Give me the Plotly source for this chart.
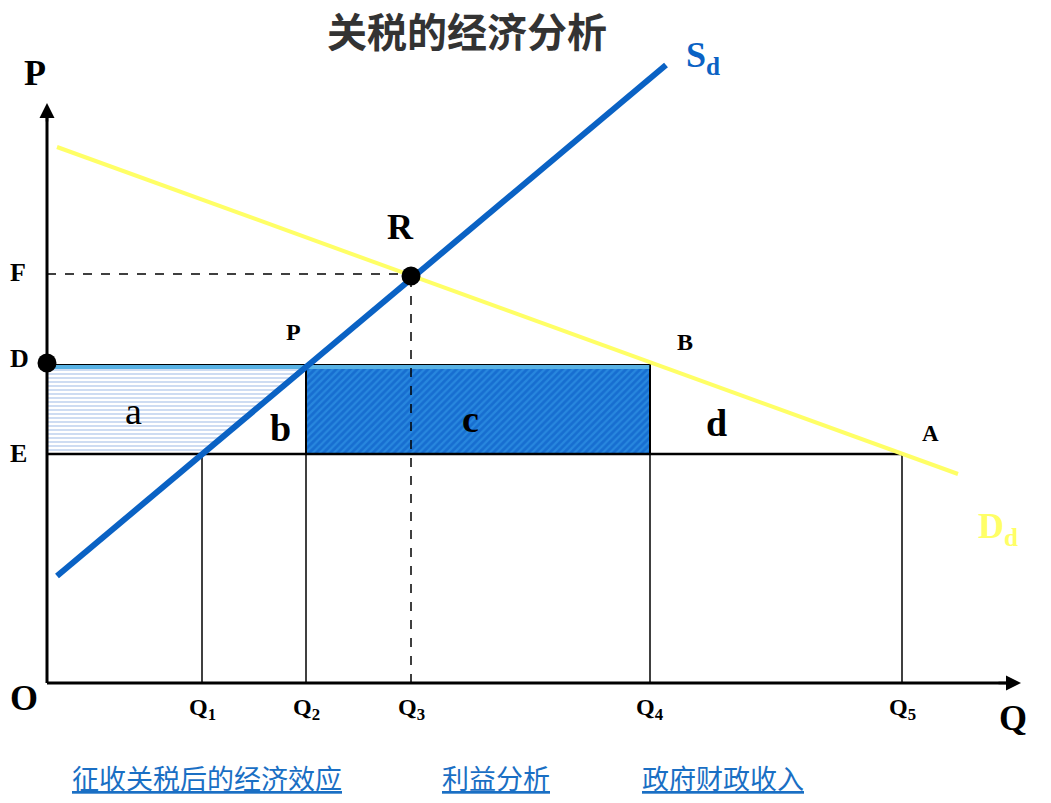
import plotly.graph_objects as go

# ---- data (diagram units; origin O at 0,0) ----
q_labels = ["Q<sub>1</sub>", "Q<sub>2</sub>", "Q<sub>3</sub>", "Q<sub>4</sub>", "Q<sub>5</sub>"]
q_values = [155, 259, 364, 603, 855]
price_labels = ["F", "D", "E"]
price_values = [409, 318, 229]
supply_q = [10, 619]
supply_p = [107, 618]
demand_q = [10, 911]
demand_p = [536, 209]
R_point = (364, 407)
area_labels = ["a", "b", "c", "d"]
links = ["征收关税后的经济效应", "利益分析", "政府财政收入"]

Q1, Q2, Q3, Q4, Q5 = q_values
F, D, E = price_values

serif = "Liberation Serif"
fig = go.Figure()

# area a (horizontal hatching)
fig.add_trace(go.Scatter(
    x=[0, Q1, Q2, 0, 0], y=[E, E, D, D, E], mode="lines",
    line=dict(color="black", width=2), fill="toself",
    fillcolor="white",
    fillpattern=dict(shape="-", bgcolor="white", fgcolor="#5a8ad4", size=4, solidity=0.3),
    hoverinfo="skip", showlegend=False))
# area c (diagonal hatching)
fig.add_trace(go.Scatter(
    x=[Q2, Q4, Q4, Q2, Q2], y=[E, E, D, D, E], mode="lines",
    line=dict(color="black", width=2), fill="toself",
    fillpattern=dict(shape="/", bgcolor="#176ed0", fgcolor="#38a0ec", size=5, solidity=0.45),
    hoverinfo="skip", showlegend=False))

# top edge of D level (light blue)
fig.add_trace(go.Scatter(x=[0, Q4], y=[D - 2, D - 2], mode="lines",
                         line=dict(color="#58b2e4", width=4), hoverinfo="skip", showlegend=False))

# E level line
fig.add_trace(go.Scatter(x=[0, Q5], y=[E, E], mode="lines",
                         line=dict(color="black", width=2.5), hoverinfo="skip", showlegend=False))

# verticals
for qv, top in [(Q1, E), (Q2, D), (Q4, D), (Q5, E)]:
    fig.add_trace(go.Scatter(x=[qv, qv], y=[0, top], mode="lines",
                             line=dict(color="black", width=1.5), hoverinfo="skip", showlegend=False))
# dashed guide lines to R
fig.add_trace(go.Scatter(x=[Q3, Q3], y=[0, R_point[1]], mode="lines",
                         line=dict(color="black", width=1.5, dash="dash"), hoverinfo="skip", showlegend=False))
fig.add_trace(go.Scatter(x=[0, Q3], y=[F, F], mode="lines",
                         line=dict(color="black", width=1.5, dash="dash"), hoverinfo="skip", showlegend=False))

# demand & supply
fig.add_trace(go.Scatter(x=demand_q, y=demand_p, mode="lines",
                         line=dict(color="#ffff66", width=4), hoverinfo="skip", showlegend=False))
fig.add_trace(go.Scatter(x=supply_q, y=supply_p, mode="lines",
                         line=dict(color="#0a62c4", width=6), hoverinfo="skip", showlegend=False))

# axes
fig.add_trace(go.Scatter(x=[0, 0], y=[0, 575], mode="lines",
                         line=dict(color="black", width=3), hoverinfo="skip", showlegend=False))
fig.add_trace(go.Scatter(x=[0, 968], y=[0, 0], mode="lines",
                         line=dict(color="black", width=3), hoverinfo="skip", showlegend=False))
fig.add_annotation(x=0, y=580, ax=0, ay=560, xref="x", yref="y", axref="x", ayref="y",
                   showarrow=True, arrowhead=2, arrowsize=1.2, arrowwidth=2.5, arrowcolor="black", text="")
fig.add_annotation(x=974, y=0, ax=950, ay=0, xref="x", yref="y", axref="x", ayref="y",
                   showarrow=True, arrowhead=2, arrowsize=1.2, arrowwidth=2.5, arrowcolor="black", text="")

# points
fig.add_trace(go.Scatter(x=[0, R_point[0]], y=[D + 2, R_point[1]], mode="markers",
                         marker=dict(color="black", size=19), hoverinfo="skip", showlegend=False))

def txt(x, y, s, size, color="black", family=serif, xanchor="center", yanchor="middle"):
    fig.add_annotation(x=x, y=y, xref="x", yref="y", text=s, showarrow=False,
                       font=dict(family=family, size=size, color=color),
                       xanchor=xanchor, yanchor=yanchor)

# axis labels
txt(-12, 610, "<b>P</b>", 36)
txt(-23, -15, "<b>O</b>", 36)
txt(966, -35, "<b>Q</b>", 36)
for lab, qv in zip(q_labels, q_values):
    txt(qv, -26, "<b>" + lab + "</b>", 24)
txt(-29, 411, "<b>F</b>", 26)
txt(-28, 325, "<b>D</b>", 26)
txt(-29, 230, "<b>E</b>", 26)
txt(246, 351, "<b>P</b>", 24)
txt(638, 341, "<b>B</b>", 24)
txt(883, 250, "<b>A</b>", 23)
txt(353, 456, "<b>R</b>", 36)
txt(86, 272, "a", 38)
txt(233, 255, "<b>b</b>", 38)
txt(423, 264, "<b>c</b>", 38)
txt(669, 260, "<b>d</b>", 38)
txt(637, 626, "<b>S<sub>d</sub></b>", 36, color="#0a62c4", xanchor="left")
txt(929, 155, "<b>D<sub>d</sub></b>", 36, color="#ffff66", xanchor="left")

# link texts
link_x = [23, 393, 593]
for s, lx in zip(links, link_x):
    txt(lx, -94, "<u>" + s + "</u>", 27, color="#1a6fc4", family="Noto Sans CJK SC", xanchor="left")

# page body has an 8px margin: shrink figure and shift ranges so 1 unit = 1 px
fig.update_layout(
    width=1035, height=787,
    margin=dict(l=0, r=0, t=0, b=0),
    paper_bgcolor="white", plot_bgcolor="white",
    xaxis=dict(range=[-39, 996], visible=False, fixedrange=True),
    yaxis=dict(range=[-112, 675], visible=False, fixedrange=True),
    title=dict(text="<b>关税的经济分析</b>", x=0.4435, y=0.968, xanchor="center", yanchor="middle",
               font=dict(family="Noto Sans CJK SC", size=40, color="#333333")),
)

fig.write_html("out.html")
